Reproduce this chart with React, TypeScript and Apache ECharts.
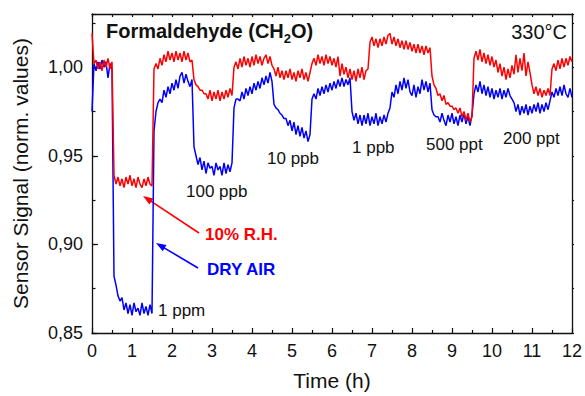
import React, { useEffect, useRef } from "react";
import * as echarts from "echarts";

// sampling step of the recorded traces (hours)
const TIME_STEP_H = 0.05;

// DRY AIR trace (blue), one value every 0.05 h from 0 to 12 h
const dryAir = [
  0.975, 1.002, 0.998, 1.003, 0.999, 1.004, 1.0, 1.003, 0.994, 1.002, 0.999,
  0.882, 0.877, 0.871, 0.868, 0.87, 0.863, 0.867, 0.861, 0.866, 0.86,
  0.867, 0.862, 0.864, 0.86, 0.867, 0.861, 0.865, 0.86, 0.866, 0.861,
  0.964, 0.975, 0.98, 0.982, 0.98, 0.987, 0.983, 0.989, 0.985, 0.991,
  0.987, 0.993, 0.988, 0.995, 0.997, 0.991, 0.996, 0.992, 0.989, 0.993,
  0.955, 0.95, 0.945, 0.949, 0.942, 0.947, 0.94, 0.946, 0.943, 0.944,
  0.939, 0.946, 0.942, 0.944, 0.939, 0.946, 0.94, 0.945, 0.941, 0.946,
  0.977, 0.982, 0.982, 0.981, 0.986, 0.982, 0.988, 0.984, 0.989, 0.985,
  0.991, 0.987, 0.992, 0.988, 0.994, 0.99, 0.995, 0.991, 0.997, 0.992,
  0.979, 0.977, 0.976, 0.974, 0.973, 0.971, 0.971, 0.967, 0.97, 0.964,
  0.969, 0.962, 0.967, 0.961, 0.966, 0.96, 0.964, 0.958, 0.962, 0.982,
  0.985, 0.982, 0.988, 0.984, 0.989, 0.985, 0.99, 0.986, 0.991, 0.987,
  0.992, 0.988, 0.993, 0.989, 0.994, 0.989, 0.993, 0.99, 0.994, 0.975,
  0.97, 0.974, 0.968, 0.973, 0.967, 0.973, 0.968, 0.974, 0.967, 0.972,
  0.968, 0.974, 0.967, 0.972, 0.968, 0.973, 0.969, 0.974, 0.977, 0.986,
  0.983, 0.99, 0.985, 0.992, 0.987, 0.994, 0.988, 0.993, 0.986, 0.984,
  0.99, 0.983, 0.989, 0.985, 0.993, 0.987, 0.992, 0.986, 0.991, 0.976,
  0.973, 0.972, 0.972, 0.969, 0.974, 0.97, 0.967, 0.973, 0.969, 0.974,
  0.968, 0.972, 0.967, 0.973, 0.969, 0.974, 0.968, 0.972, 0.967, 0.973,
  0.985, 0.99, 0.986, 0.992, 0.985, 0.99, 0.984, 0.989, 0.983, 0.988,
  0.982, 0.987, 0.983, 0.988, 0.982, 0.987, 0.983, 0.988, 0.984, 0.982,
  0.98, 0.975, 0.979, 0.973, 0.978, 0.974, 0.979, 0.973, 0.978, 0.974,
  0.979, 0.975, 0.98, 0.974, 0.979, 0.975, 0.98, 0.976, 0.981, 0.986,
  0.983, 0.988, 0.984, 0.989, 0.984, 0.99, 0.985, 0.983, 0.988, 0.983,
];

// 10% R.H. trace (red), one value every 0.05 h from 0 to 12 h
const humidAir = [
  1.019, 1.002, 1.004, 0.999, 1.003, 0.998, 1.004, 1.0, 1.005, 0.999, 1.003,
  0.939, 0.934, 0.938, 0.933, 0.937, 0.932, 0.938, 0.934, 0.939, 0.933,
  0.937, 0.932, 0.938, 0.934, 0.932, 0.937, 0.933, 0.938, 0.934, 0.933,
  0.999, 1.002, 0.999, 1.005, 1.001, 1.007, 1.003, 1.009, 1.004, 1.008,
  1.003, 1.009, 1.004, 1.008, 1.003, 1.009, 1.004, 1.008, 1.003, 1.004,
  0.993, 0.99, 0.989, 0.987, 0.987, 0.985, 0.985, 0.982, 0.987, 0.981,
  0.986, 0.982, 0.987, 0.981, 0.986, 0.982, 0.987, 0.983, 0.988, 0.984,
  1.0, 1.003, 0.999, 1.005, 1.0, 1.006, 1.001, 1.005, 1.0, 1.006,
  1.001, 1.007, 1.002, 1.006, 1.001, 1.005, 1.007, 1.002, 1.006, 1.001,
  0.999, 0.995, 1.0, 0.994, 0.998, 0.993, 0.998, 0.994, 0.999, 0.993,
  0.997, 0.992, 0.998, 0.994, 0.999, 0.993, 0.997, 0.992, 0.997, 1.002,
  1.005, 1.001, 1.007, 1.002, 1.006, 1.001, 1.007, 1.002, 1.006, 1.001,
  1.005, 1.0, 1.006, 0.995, 1.002, 0.996, 1.0, 0.994, 0.999, 0.993,
  0.998, 0.992, 0.999, 0.994, 1.0, 0.993, 0.998, 0.999, 1.014, 1.017,
  1.012, 1.016, 1.011, 1.016, 1.012, 1.017, 1.013, 1.018, 1.019, 1.013,
  1.017, 1.012, 1.016, 1.011, 1.015, 1.01, 1.015, 1.01, 1.014, 1.009,
  1.013, 1.008, 1.013, 1.008, 1.012, 1.007, 1.012, 1.008, 1.011, 0.995,
  0.99, 0.988, 0.984, 0.985, 0.981, 0.984, 0.979, 0.98, 0.978, 0.978,
  0.976, 0.977, 0.974, 0.977, 0.972, 0.975, 0.97, 0.974, 0.969, 0.972,
  1.005, 1.009, 1.004, 1.01, 1.003, 1.008, 1.002, 1.007, 1.001, 1.006,
  1.0, 1.004, 0.997, 1.002, 0.995, 1.0, 0.993, 0.999, 0.994, 1.001,
  0.996, 1.007, 0.997, 1.005, 0.998, 1.008, 0.995, 1.003, 0.997, 0.99,
  0.985, 0.989, 0.984, 0.988, 0.983, 0.987, 0.984, 0.988, 0.984, 0.999,
  1.002, 0.998, 1.004, 0.999, 1.005, 1.0, 1.005, 1.001, 1.006, 1.003,
];

const seriesNames = ["DRY AIR", "10% R.H."];
const concentrationLabels = ["1 ppm", "100 ppb", "10 ppb", "1 ppb", "500 ppt", "200 ppt"];
const titleText = "Formaldehyde (CH";
const temperatureText = "330°C";

const FONT = "'Liberation Sans', Arial, Helvetica, sans-serif";
const RED = "#ff0000";
const BLUE = "#0000ff";
const INK = "#111111";

function toPairs(values: number[]) {
  return values.map((v, i) => [Number((i * TIME_STEP_H).toFixed(2)), v]);
}

function arrow(x1: number, y1: number, x2: number, y2: number, color: string) {
  const dx = x2 - x1;
  const dy = y2 - y1;
  const len = Math.hypot(dx, dy);
  const ux = dx / len;
  const uy = dy / len;
  const hl = 10;
  const hw = 3.6;
  const bx = x2 - ux * hl;
  const by = y2 - uy * hl;
  const px = -uy;
  const py = ux;
  return [
    {
      type: "line",
      shape: { x1, y1, x2: bx + ux * 2, y2: by + uy * 2 },
      style: { stroke: color, lineWidth: 1.6 },
      silent: true,
    },
    {
      type: "polygon",
      shape: {
        points: [
          [x2, y2],
          [bx + px * hw, by + py * hw],
          [bx - px * hw, by - py * hw],
        ],
      },
      style: { fill: color },
      silent: true,
    },
  ];
}

function label(text: string, x: number, y: number, opts: any = {}) {
  return {
    type: "text",
    x,
    y,
    silent: true,
    style: {
      text,
      fill: opts.color || INK,
      fontSize: opts.fontSize || 17,
      fontWeight: opts.fontWeight || "normal",
      fontFamily: FONT,
      align: opts.align || "left",
      verticalAlign: "middle",
      textAlign: opts.align || "left",
      textVerticalAlign: "middle",
    },
  };
}

export default function App() {
  const ref = useRef<HTMLDivElement>(null);

  useEffect(() => {
    if (!ref.current) return;
    const chart = echarts.init(ref.current, null, { renderer: "svg" });
    const axisLine = { show: true, lineStyle: { color: INK, width: 1.3 } };
    const tickStyle = { color: INK, width: 1.2 };
    const option: any = {
      animation: false,
      backgroundColor: "#ffffff",
      textStyle: { fontFamily: FONT },
      title: {
        text: `{a|${titleText}}{s|2}{a|O)}`,
        left: 106,
        top: 17,
        padding: 0,
        textStyle: {
          rich: {
            a: { fontSize: 20, fontWeight: "bold", fontFamily: FONT, color: INK, lineHeight: 28 },
            s: {
              fontSize: 13,
              fontWeight: "bold",
              fontFamily: FONT,
              color: INK,
              lineHeight: 13,
              padding: [15, 0, 0, 0],
            },
          },
        },
      },
      grid: { left: 92, right: 13, top: 14, bottom: 60, containLabel: false },
      xAxis: [
        {
          type: "value",
          min: 0,
          max: 12,
          interval: 1,
          position: "bottom",
          axisLine,
          axisTick: { show: true, inside: true, length: 5, lineStyle: tickStyle },
          minorTick: { show: true, splitNumber: 2, length: 3, lineStyle: tickStyle },
          axisLabel: { color: INK, fontSize: 18, margin: 9, fontFamily: FONT },
          splitLine: { show: false },
          minorSplitLine: { show: false },
          name: "Time (h)",
          nameLocation: "middle",
          nameGap: 37,
          nameTextStyle: { fontSize: 21, color: INK, fontFamily: FONT },
        },
        {
          type: "value",
          min: 0,
          max: 12,
          interval: 0.5,
          position: "top",
          axisLine,
          axisTick: { show: true, inside: true, length: 3, lineStyle: tickStyle },
          axisLabel: { show: false },
          splitLine: { show: false },
        },
      ],
      yAxis: [
        {
          type: "value",
          min: 0.85,
          max: 1.03,
          interval: 0.05,
          position: "left",
          axisLine,
          axisTick: { show: true, inside: true, length: 6, lineStyle: tickStyle },
          axisLabel: {
            color: INK,
            fontSize: 18,
            margin: 9,
            fontFamily: FONT,
            showMaxLabel: false,
            formatter: (v: number) => v.toFixed(2).replace(".", ","),
          },
          splitLine: { show: false },
          name: "Sensor Signal (norm. values)",
          nameLocation: "middle",
          nameGap: 61,
          nameTextStyle: { fontSize: 21, color: INK, fontFamily: FONT },
        },
        {
          type: "value",
          min: 0.85,
          max: 1.03,
          interval: 0.025,
          position: "left",
          axisLine: { show: false },
          axisTick: { show: true, inside: true, length: 3.5, lineStyle: tickStyle },
          axisLabel: { show: false },
          splitLine: { show: false },
        },
        {
          type: "value",
          min: 0.85,
          max: 1.03,
          interval: 0.025,
          position: "right",
          axisLine,
          axisTick: { show: true, inside: false, length: 2, lineStyle: tickStyle },
          axisLabel: { show: false },
          splitLine: { show: false },
        },
      ],
      series: [
        {
          name: seriesNames[0],
          type: "line",
          data: toPairs(dryAir),
          showSymbol: false,
          symbol: "none",
          lineStyle: { color: BLUE, width: 1.5 },
          itemStyle: { color: BLUE },
          z: 2,
        },
        {
          name: seriesNames[1],
          type: "line",
          data: toPairs(humidAir),
          showSymbol: false,
          symbol: "none",
          lineStyle: { color: RED, width: 1.5 },
          itemStyle: { color: RED },
          z: 3,
        },
      ],
      graphic: [
        label(temperatureText, 567, 32, { fontSize: 20, align: "right" }),
        label(concentrationLabels[0], 158, 310),
        label(concentrationLabels[1], 186, 191),
        label(concentrationLabels[2], 267, 158),
        label(concentrationLabels[3], 352, 147),
        label(concentrationLabels[4], 426, 144),
        label(concentrationLabels[5], 503, 138),
        label(seriesNames[1], 205, 234, { color: RED, fontWeight: "bold" }),
        label(seriesNames[0], 207, 269, { color: BLUE, fontWeight: "bold" }),
        ...arrow(199, 233, 143, 196, RED),
        ...arrow(198, 268, 156, 243, BLUE),
      ],
    };
    chart.setOption(option);
    return () => chart.dispose();
  }, []);

  return (
    <div
      ref={ref}
      style={{ position: "absolute", left: 0, top: 0, width: 585, height: 396 }}
    />
  );
}
